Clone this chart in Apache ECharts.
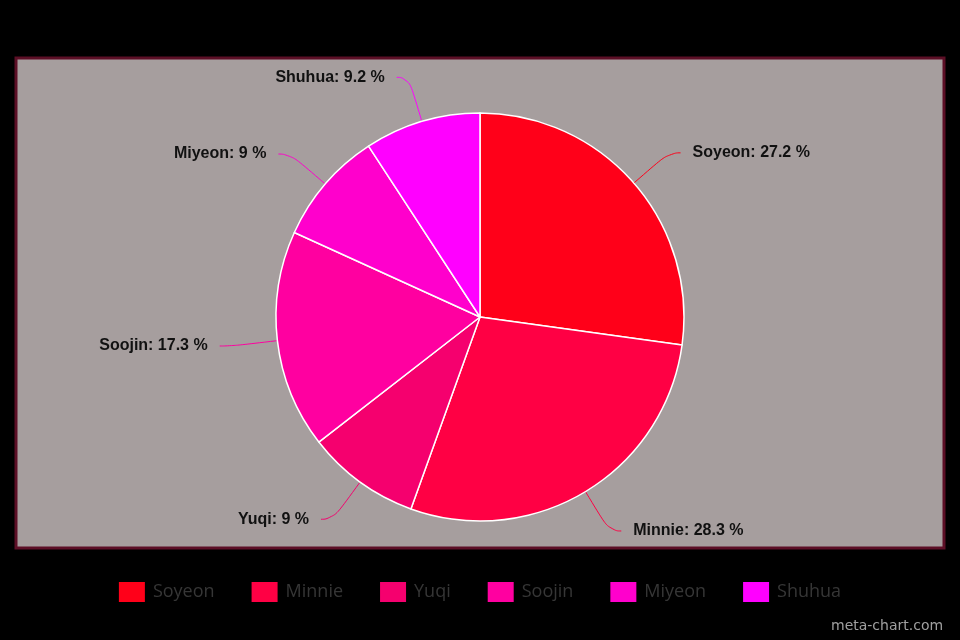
<!DOCTYPE html>
<html><head><meta charset="utf-8">
<script src="https://cdn.jsdelivr.net/npm/echarts@6/dist/echarts.min.js"></script>
<style>html,body{margin:0;padding:0;background:#000;}#c{width:960px;height:640px;}</style>
</head><body><div id="c"></div>
<script>
const categories = ['Soyeon','Minnie','Yuqi','Soojin','Miyeon','Shuhua'];
const values = [27.2, 28.3, 9, 17.3, 9, 9.2];
const colors = ['#ff0019','#ff0044','#f5006e','#ff00a0','#ff00cc','#ff00ff'];

const chart = echarts.init(document.getElementById('c'), null, {renderer:'canvas'});
chart.setOption({
  backgroundColor: '#000',
  animation: false,
  color: colors,
  graphic: [
    {type:'rect', shape:{x:16,y:58,width:928,height:490}, style:{fill:'#a69e9e', stroke:'#5c0f26', lineWidth:3}, z:-1},
    {type:'text', left: 831, top: 619, style:{text:'meta-chart.com', fill:'#a0a0a0', font:'14px "DejaVu Sans"'}}
  ],
  legend: {
    top: 577, left: 'center',
    itemWidth: 26, itemHeight: 20, itemGap: 37,
    icon: 'rect',
    itemStyle: {borderWidth: 0},
    textStyle: {color:'#363636', fontSize: 18, fontFamily:'"Open Sans", sans-serif', padding:[0,0,0,3]},
    data: categories
  },
  series: [{
    type: 'pie',
    center: [480, 317],
    radius: [0, 204],
    startAngle: 90,
    clockwise: true,
    itemStyle: {borderColor:'#fff', borderWidth: 1.5},
    label: {
      show: true,
      formatter: '{b}: {c} %',
      color: '#111',
      fontWeight: 'bold',
      fontSize: 16,
      distanceToLabelLine: 12,
      fontFamily: '"Liberation Sans", Arial, sans-serif'
    },
    labelLine: {show: true, length: 46, length2: 12, smooth: 0.6, lineStyle:{width:1}},
    data: categories.map((n,i)=>({name:n, value:values[i]}))
  }]
});
</script></body></html>
